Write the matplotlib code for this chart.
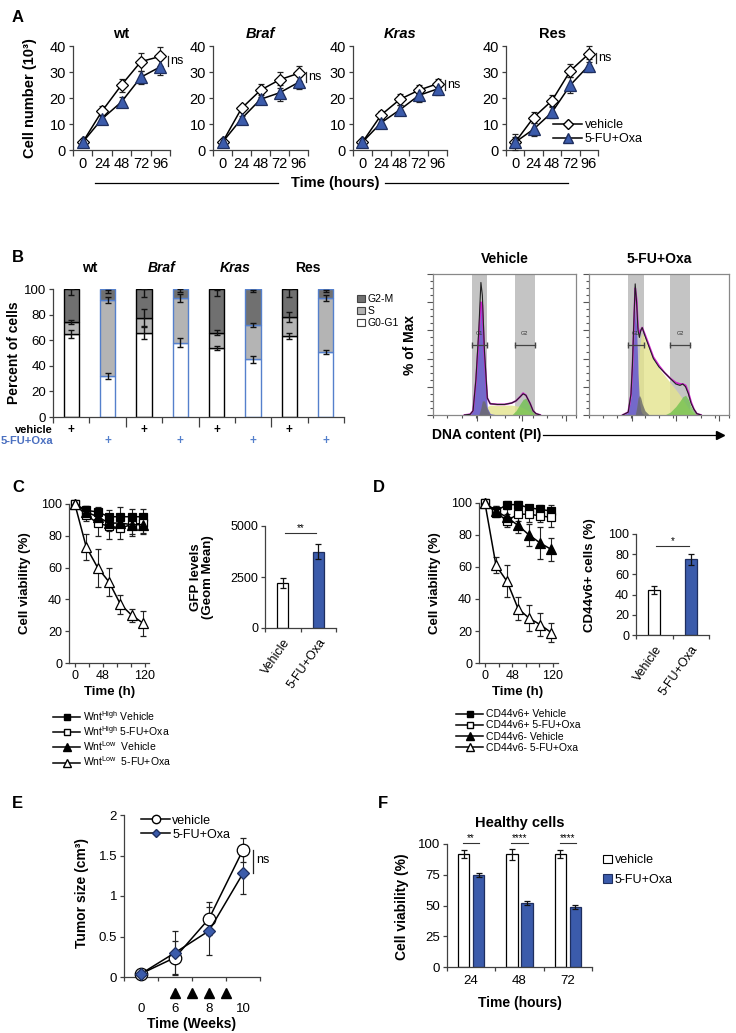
import matplotlib
matplotlib.use('Agg')
import matplotlib.pyplot as plt
import numpy as np
from matplotlib.lines import Line2D
from matplotlib.patches import Patch

plt.rcParams['font.family'] = ['Liberation Sans', 'DejaVu Sans']
plt.rcParams['mathtext.fontset'] = 'custom'
plt.rcParams['mathtext.rm'] = 'Liberation Sans'
plt.rcParams['mathtext.bf'] = 'Liberation Sans:bold'

W, H = 736, 1033
BLUE = '#3b5bab'
DBLUE = '#1e2e5e'
LBLUE = '#5580cc'
AX = '#404040'

# ---------------- data ----------------
# A: cell number (10^3)
a_hours = ['0', '24', '48', '72', '96']
a_lines = ['wt', 'Braf', 'Kras', 'Res']
a_veh = [[3, 15, 25, 34, 36], [3, 16, 23, 27, 29.5], [3, 13.5, 19.5, 23, 25.5], [3, 12.5, 19, 30.5, 37]]
a_veh_err = [[1, 2, 2.5, 3.5, 3.5], [1, 1, 2.5, 3, 3], [1, 1.5, 2, 2, 2], [3, 2, 2, 2.5, 3]]
a_fu = [[3, 12, 18.5, 28, 32], [3, 12, 19.5, 22, 26], [3, 10.5, 15.5, 21, 23.5], [3, 8, 14.5, 25, 32.5]]
a_fu_err = [[1, 1.5, 2, 2.5, 3], [1, 1, 1.5, 3, 2.5], [1, 1.5, 2, 2.5, 2.5], [2, 2.5, 2, 3, 2.5]]

# B: cell cycle (stacked %)
b_groups = ['wt', 'Braf', 'Kras', 'Res']
b_g1 = [65, 32, 66, 58, 54, 45, 63.5, 50.5]
b_g1_err = [3, 2.5, 5, 3.5, 1.5, 3, 2.5, 1.5]
b_s_top = [74, 91.5, 77, 93, 66, 72, 78, 93]
b_s_err = [1.5, 2.5, 7, 3, 2, 1.5, 4, 2]
b_g2_mid = [97.5, 98, 97, 99, 97, 98.5, 97, 98.5]
b_g2_err = [2.5, 1.5, 3, 1, 2.5, 1, 3, 1]

# B right: DNA histograms (fraction of max)
veh_x = [0.22, 0.26, 0.28, 0.30, 0.32, 0.335, 0.345, 0.36, 0.38, 0.40, 0.45, 0.50, 0.55, 0.58, 0.61, 0.63, 0.65, 0.68, 0.70, 0.72, 0.75]
veh_total = [0, 0.005, 0.03, 0.25, 0.60, 0.94, 0.85, 0.45, 0.12, 0.08, 0.075, 0.075, 0.085, 0.10, 0.13, 0.15, 0.14, 0.08, 0.03, 0.01, 0]
veh_fit = [0, 0.005, 0.03, 0.24, 0.55, 0.80, 0.78, 0.42, 0.12, 0.08, 0.075, 0.075, 0.085, 0.10, 0.13, 0.155, 0.14, 0.08, 0.03, 0.01, 0]
veh_g1 = [0, 0.005, 0.03, 0.24, 0.55, 0.80, 0.75, 0.35, 0.05, 0.01, 0, 0, 0, 0, 0, 0, 0, 0, 0, 0, 0]
veh_s = [0, 0, 0, 0, 0, 0, 0.01, 0.03, 0.06, 0.07, 0.07, 0.07, 0.07, 0.065, 0.06, 0.05, 0.04, 0.02, 0.01, 0, 0]
veh_g2 = [0, 0, 0, 0, 0, 0, 0, 0, 0, 0, 0, 0, 0, 0.03, 0.08, 0.11, 0.12, 0.07, 0.03, 0.01, 0]
veh_deb = [0, 0, 0, 0, 0, 0.05, 0.10, 0.10, 0.04, 0, 0, 0, 0, 0, 0, 0, 0, 0, 0, 0, 0]

fu_x = [0.24, 0.28, 0.30, 0.31, 0.32, 0.33, 0.34, 0.35, 0.36, 0.37, 0.38, 0.40, 0.43, 0.46, 0.50, 0.54, 0.58, 0.62, 0.65, 0.67, 0.69, 0.71, 0.73, 0.75, 0.77, 0.80]
fu_total = [0, 0.02, 0.15, 0.35, 0.65, 0.93, 0.80, 0.60, 0.55, 0.60, 0.62, 0.56, 0.48, 0.40, 0.34, 0.30, 0.26, 0.22, 0.21, 0.22, 0.20, 0.15, 0.08, 0.04, 0.01, 0]
fu_fit = [0, 0.02, 0.14, 0.33, 0.62, 0.90, 0.82, 0.62, 0.58, 0.60, 0.62, 0.57, 0.49, 0.41, 0.35, 0.30, 0.26, 0.23, 0.22, 0.22, 0.21, 0.16, 0.09, 0.04, 0.01, 0]
fu_g1 = [0, 0.02, 0.13, 0.30, 0.55, 0.76, 0.62, 0.30, 0.10, 0.03, 0.01, 0, 0, 0, 0, 0, 0, 0, 0, 0, 0, 0, 0, 0, 0, 0]
fu_s = [0, 0, 0, 0, 0, 0.02, 0.10, 0.30, 0.45, 0.55, 0.58, 0.54, 0.46, 0.39, 0.33, 0.28, 0.23, 0.18, 0.14, 0.11, 0.08, 0.05, 0.03, 0.01, 0, 0]
fu_g2 = [0, 0, 0, 0, 0, 0, 0, 0, 0, 0, 0, 0, 0, 0, 0, 0, 0.02, 0.06, 0.10, 0.13, 0.14, 0.11, 0.06, 0.03, 0.01, 0]
fu_deb = [0, 0, 0, 0, 0, 0, 0.05, 0.12, 0.14, 0.12, 0.08, 0.03, 0, 0, 0, 0, 0, 0, 0, 0, 0, 0, 0, 0, 0, 0]

# C / D: viability over time
cd_time = [0, 19.5, 39, 58.5, 78, 97.5, 117]
c_hi_veh = [100, 96, 95, 92, 92, 92, 92]
c_hi_veh_err = [0, 3, 3, 4, 6, 5, 5]
c_hi_fu = [100, 93, 88, 86, 85, 87, 88]
c_hi_fu_err = [0, 4, 8, 8, 7, 6, 6]
c_lo_veh = [100, 95, 92, 88, 88, 87, 87]
c_lo_veh_err = [0, 4, 5, 5, 5, 7, 6]
c_lo_fu = [100, 73, 60, 51, 37, 30, 25]
c_lo_fu_err = [0, 8, 12, 9, 6, 4, 8]
c_labels = ['Wnt$^{\\mathrm{High}}$ Vehicle', 'Wnt$^{\\mathrm{High}}$ 5-FU+Oxa',
            'Wnt$^{\\mathrm{Low}}$  Vehicle', 'Wnt$^{\\mathrm{Low}}$  5-FU+Oxa']
gfp_groups = ['Vehicle', '5-FU+Oxa']
gfp_vals = [2200, 3750]
gfp_err = [250, 370]

d_pos_veh = [100, 95, 99, 99, 97, 96, 95]
d_pos_veh_err = [0, 3, 2, 2, 2, 3, 4]
d_pos_fu = [100, 94, 89, 93, 93, 92, 91]
d_pos_fu_err = [0, 3, 4, 4, 5, 4, 6]
d_neg_veh = [100, 95, 91, 86, 80, 75, 71]
d_neg_veh_err = [0, 3, 5, 5, 7, 10, 7]
d_neg_fu = [100, 61, 51, 34, 28, 24, 19]
d_neg_fu_err = [0, 5, 10, 7, 8, 7, 6]
d_labels = ['CD44v6+ Vehicle', 'CD44v6+ 5-FU+Oxa', 'CD44v6- Vehicle', 'CD44v6- 5-FU+Oxa']
cd44_vals = [45, 75]
cd44_err = [4, 5.5]

# E: tumor size
e_weeks = ['0', '6', '8', '10']
e_veh = [0.04, 0.24, 0.72, 1.57]
e_veh_err = [0.02, 0.20, 0.20, 0.15]
e_fu = [0.04, 0.30, 0.57, 1.28]
e_fu_err = [0.02, 0.27, 0.30, 0.26]
e_doses = [1, 1.5, 2, 2.5]

# F: healthy cells
f_hours = ['24', '48', '72']
f_veh = [92, 91.5, 92]
f_veh_err = [3.5, 4.5, 3]
f_fu = [75, 52, 49]
f_fu_err = [1.5, 1.5, 1.5]
f_sig = ['**', '****', '****']

# ---------------- helpers ----------------
fig = plt.figure(figsize=(W / 100, H / 100), dpi=100)


def px_axes(x0, y0, x1, y1):
    return fig.add_axes([x0 / W, 1 - y1 / H, (x1 - x0) / W, (y1 - y0) / H])


def ftext(x, y, s, **kw):
    return fig.text(x / W, 1 - y / H, s, **kw)


def style(ax, size=9):
    for side in ['top', 'right']:
        ax.spines[side].set_visible(False)
    for side in ['left', 'bottom']:
        ax.spines[side].set_color(AX)
        ax.spines[side].set_linewidth(0.9)
    ax.tick_params(colors=AX, labelcolor='black', direction='out', length=3,
                   width=0.9, labelsize=size, pad=2)


def eb(ax, x, y, err, marker, face, ms, label=None, edge='black'):
    ax.errorbar(x, y, yerr=err, color='black', lw=1.1, marker=marker, ms=ms,
                mfc=face, mec=edge, mew=0.9, ecolor='#222', elinewidth=0.8,
                capsize=2.2, capthick=0.8, zorder=3, clip_on=False, label=label)


# panel letters
for x, y, s in [(12, 18, 'A'), (12, 258, 'B'), (12, 487, 'C'), (373, 487, 'D'),
                (12, 803, 'E'), (378, 803, 'F')]:
    ftext(x, y, s, fontsize=12, fontweight='bold', va='center', ha='left')

# ---------------- A ----------------
a_boxes = [(73, 46, 170, 150), (213, 46, 308, 150), (353, 46, 447, 150), (506, 46, 598, 150)]
a_ns = [(32.5, 36), (26, 30), (23, 27), (33.5, 37.5)]
a_styles = ['normal', 'italic', 'italic', 'normal']
ax_x = np.arange(len(a_hours))
for i, name in enumerate(a_lines):
    ax = px_axes(*a_boxes[i])
    style(ax, 10.5)
    eb(ax, ax_x, a_veh[i], a_veh_err[i], 'D', 'white', 6.5)
    eb(ax, ax_x, a_fu[i], a_fu_err[i], '^', BLUE, 8, edge=DBLUE)
    ax.set_xlim(-0.5, 4.5)
    ax.set_ylim(0, 40)
    ax.set_yticks([0, 10, 20, 30, 40])
    ax.set_xticks(ax_x)
    ax.set_xticklabels(a_hours)
    ax.set_xticks(np.arange(-0.5, 5, 1), minor=True)
    ax.tick_params(axis='x', which='major', length=0, pad=5)
    ax.tick_params(axis='x', which='minor', length=4, color=AX, width=0.9)
    ax.set_title(name, fontsize=10.5, fontweight='bold', fontstyle=a_styles[i], pad=6)
    lo, hi = a_ns[i]
    ax.plot([4.4, 4.4], [lo, hi], color='#222', lw=0.9, clip_on=False)
    ax.text(4.52, (lo + hi) / 2, 'ns', fontsize=9, va='center', ha='left')
ftext(30, 98, 'Cell number (10³)', rotation=90, fontsize=10.5, fontweight='bold',
      ha='center', va='center')
ftext(335, 183, 'Time (hours)', fontsize=10.5, fontweight='bold', ha='center', va='center')
fig.add_artist(Line2D([95 / W, 278 / W], [1 - 183 / H] * 2, color='black', lw=0.9))
fig.add_artist(Line2D([385 / W, 568 / W], [1 - 183 / H] * 2, color='black', lw=0.9))
a_handles = [Line2D([], [], color='black', lw=1.1, marker='D', ms=5, mfc='white', mec='black'),
             Line2D([], [], color='black', lw=1.1, marker='^', ms=6.5, mfc=BLUE, mec=DBLUE)]
fig.legend(a_handles, ['vehicle', '5-FU+Oxa'], loc='center left',
           bbox_to_anchor=(547 / W, 1 - 132 / H), frameon=False, fontsize=9,
           handlelength=2.3, handletextpad=0.2, labelspacing=0.15, borderpad=0)

# ---------------- B (stacked bars) ----------------
G2C, SC = '#707070', '#b4b4b4'
ax = px_axes(53, 289, 344, 417)
style(ax, 9.5)
bx = np.arange(len(b_g1))
edges = ['black', LBLUE] * 4
g1 = np.array(b_g1)
stop = np.array(b_s_top)
ax.bar(bx, g1, width=0.42, color='white', edgecolor=edges, lw=1)
ax.bar(bx, stop - g1, bottom=g1, width=0.42, color=SC, edgecolor=edges, lw=1)
ax.bar(bx, 100 - stop, bottom=stop, width=0.42, color=G2C, edgecolor=edges, lw=1)
for yv, ye in [(b_g1, b_g1_err), (b_s_top, b_s_err), (b_g2_mid, b_g2_err)]:
    ax.errorbar(bx, yv, yerr=ye, fmt='none', ecolor='#111', elinewidth=1, capsize=2.5,
                capthick=1, zorder=4)
ax.set_xlim(-0.5, 7.5)
ax.set_ylim(0, 100)
ax.set_yticks([0, 20, 40, 60, 80, 100])
ax.set_xticks([1.5, 3.5, 5.5])
ax.set_xticklabels([])
ax.tick_params(axis='x', which='major', length=7)
ax.set_xticks([-0.5, 0.5, 2.5, 4.5, 6.5, 7.5], minor=True)
ax.tick_params(axis='x', which='minor', length=4, color=AX, width=0.9)
for k, g in enumerate(b_groups):
    ax.text(2 * k + 0.5, 1.165, g, transform=ax.get_xaxis_transform(), ha='center',
            va='center', fontsize=10, fontweight='bold',
            fontstyle='italic' if g in ('Braf', 'Kras') else 'normal')
trans = ax.get_xaxis_transform()
for k in bx:
    if k % 2 == 0:
        ax.text(k, -0.10, '+', transform=trans, ha='center', va='center', fontsize=8.5,
                fontweight='bold')
    else:
        ax.text(k, -0.19, '+', transform=trans, ha='center', va='center', fontsize=8.5,
                fontweight='bold', color=LBLUE)
ftext(53, 430, 'vehicle', ha='right', va='center', fontsize=8, fontweight='bold')
ftext(53, 441, '5-FU+Oxa', ha='right', va='center', fontsize=8, fontweight='bold',
      color='#4a6fc0')
ftext(14, 353, 'Percent of cells', rotation=90, fontsize=10, fontweight='bold',
      ha='center', va='center')
b_handles = [Patch(facecolor=G2C, edgecolor='#444', lw=0.8),
             Patch(facecolor=SC, edgecolor='#444', lw=0.8),
             Patch(facecolor='white', edgecolor='#444', lw=0.8)]
fig.legend(b_handles, ['G2-M', 'S', 'G0-G1'], loc='upper left',
           bbox_to_anchor=(352 / W, 1 - 289 / H), frameon=False, fontsize=7.5,
           handlelength=0.7, handleheight=0.7, handletextpad=0.25, labelspacing=0.2,
           borderpad=0)

# ---------------- B (DNA histograms) ----------------
hist_sets = [
    ('Vehicle', (433, 274, 576, 415), veh_x, veh_total, veh_fit, veh_g1, veh_s, veh_g2, veh_deb,
     (0.27, 0.38), (0.57, 0.71)),
    ('5-FU+Oxa', (589, 274, 729, 415), fu_x, fu_total, fu_fit, fu_g1, fu_s, fu_g2, fu_deb,
     (0.28, 0.39), (0.58, 0.72)),
]
for title, box, hx, tot, fit, hg1, hs, hg2, hdeb, band1, band2 in hist_sets:
    ax = px_axes(*box)
    for sp in ax.spines.values():
        sp.set_color('#888888')
        sp.set_linewidth(0.9)
    ax.set_xlim(0, 1)
    ax.set_ylim(0, 1.0)
    ax.axvspan(*band1, color='#c4c4c4', lw=0, zorder=0)
    ax.axvspan(*band2, color='#c4c4c4', lw=0, zorder=0)
    ax.fill_between(hx, hs, color='#e4e48e', alpha=0.8, lw=0, zorder=1)
    ax.fill_between(hx, hg2, color='#6cc04a', alpha=0.75, lw=0, zorder=2)
    ax.fill_between(hx, hg1, color='#6659cc', alpha=0.85, lw=0, zorder=2)
    ax.fill_between(hx, hdeb, color='#6a6a6a', alpha=0.8, lw=0, zorder=3)
    ax.plot(hx, fit, color='#d020d0', lw=1.3, zorder=4)
    ax.plot(hx, tot, color='#222222', lw=0.8, zorder=5)
    for (b0, b1), lab in [(band1, 'G1'), (band2, 'G2')]:
        ax.plot([b0, b1], [0.5, 0.5], color='#444', lw=0.9, zorder=6)
        ax.plot([b0, b1], [0.5, 0.5], ls='none', marker='|', ms=5, color='#444', zorder=6)
        ax.text((b0 + b1) / 2, 0.58, lab, fontsize=4, ha='center', va='center', color='#333',
                zorder=6)
    ax.set_yticks(np.arange(0, 1.01, 0.2))
    ax.set_yticks(np.arange(0, 1.01, 0.05), minor=True)
    ax.set_xticks([0.31, 0.62, 0.93])
    ax.set_xticks(np.arange(0, 1.01, 0.1), minor=True)
    ax.tick_params(which='both', labelleft=False, labelbottom=False, color='#555', width=0.8)
    ax.tick_params(which='major', length=4)
    ax.tick_params(which='minor', length=2)
    ax.set_title(title, fontsize=10, fontweight='bold', pad=8)
ftext(410, 345, '% of Max', rotation=90, fontsize=10, fontweight='bold', ha='center', va='center')
ftext(432, 435, 'DNA content (PI)', fontsize=10, fontweight='bold', ha='left', va='center')
fig.add_artist(Line2D([543 / W, 716 / W], [1 - 435 / H] * 2, color='black', lw=0.9))
fig.add_artist(Line2D([720 / W], [1 - 435 / H], marker='>', ms=6, color='black'))


# ---------------- C / D line charts ----------------
def viability(box, series, labels, leg_x, xlim):
    ax = px_axes(*box)
    style(ax, 9)
    marks = [('s', 'black'), ('s', 'white'), ('^', 'black'), ('^', 'white')]
    for (y, err), (m, fc) in zip(series, marks):
        eb(ax, cd_time, y, err, m, fc, 6 if m == 's' else 7)
    ax.set_xlim(*xlim)
    ax.set_ylim(0, 100)
    ax.set_yticks([0, 20, 40, 60, 80, 100])
    ax.set_xticks([0, 48, 120])
    ax.set_xticks([24, 72, 96], minor=True)
    ax.tick_params(axis='x', which='minor', length=3, color=AX, width=0.9)
    handles = [Line2D([], [], color='black', lw=1.1, marker=m, ms=5 if m == 's' else 6,
                      mfc=fc, mec='black') for m, fc in marks]
    fig.legend(handles, labels, loc='upper left', bbox_to_anchor=(leg_x / W, 1 - 704 / H),
               frameon=False, fontsize=7.5, handlelength=2.6, handletextpad=0.3,
               labelspacing=0.12, borderpad=0)
    return ax


viability((69, 504, 149, 663),
          [(c_hi_veh, c_hi_veh_err), (c_hi_fu, c_hi_fu_err), (c_lo_veh, c_lo_veh_err),
           (c_lo_fu, c_lo_fu_err)], c_labels, 48, (-10, 127))
ftext(25, 583, 'Cell viability (%)', rotation=90, fontsize=9.5, fontweight='bold',
      ha='center', va='center')
ftext(110, 692, 'Time (h)', fontsize=9.5, fontweight='bold', ha='center', va='center')

viability((479, 503, 558, 663),
          [(d_pos_veh, d_pos_veh_err), (d_pos_fu, d_pos_fu_err), (d_neg_veh, d_neg_veh_err),
           (d_neg_fu, d_neg_fu_err)], d_labels, 451, (-10.5, 129))
ftext(435, 583, 'Cell viability (%)', rotation=90, fontsize=9.5, fontweight='bold',
      ha='center', va='center')
ftext(518, 692, 'Time (h)', fontsize=9.5, fontweight='bold', ha='center', va='center')


# ---------------- C / D small bar charts ----------------
def two_bars(box, vals, err, ylim, yticks, sig, sig_y):
    ax = px_axes(*box)
    style(ax, 9)
    bxx = np.arange(2)
    ax.bar(bxx, vals, width=0.32, color=['white', BLUE], edgecolor=['black', DBLUE], lw=0.9)
    ax.errorbar(bxx, vals, yerr=err, fmt='none', ecolor='#111', elinewidth=0.9, capsize=2.5,
                capthick=0.9)
    ax.set_xlim(-0.5, 1.5)
    ax.set_ylim(*ylim)
    ax.set_yticks(yticks)
    ax.set_xticks(bxx)
    ax.set_xticklabels(gfp_groups, rotation=55, ha='right', rotation_mode='anchor', fontsize=9)
    ax.tick_params(axis='x', which='major', length=0, pad=6)
    ax.set_xticks([-0.5, 0.5, 1.5], minor=True)
    ax.tick_params(axis='x', which='minor', length=3, color=AX, width=0.9)
    ax.plot([0.05, 0.95], [sig_y, sig_y], color='#333', lw=0.8)
    ax.text(0.5, sig_y, sig, ha='center', va='bottom', fontsize=7)
    return ax


two_bars((265, 526, 336, 628), gfp_vals, gfp_err, (0, 5000), [0, 2500, 5000], '**', 4650)
ftext(202, 577, 'GFP levels\n(Geom Mean)', rotation=90, fontsize=9.5, fontweight='bold',
      ha='center', va='center', linespacing=1.0)
two_bars((636, 534, 709, 635), cd44_vals, cd44_err, (0, 100), [0, 20, 40, 60, 80, 100], '*', 88)
ftext(590, 575, 'CD44v6+ cells (%)', rotation=90, fontsize=9.5, fontweight='bold',
      ha='center', va='center')

# ---------------- E ----------------
ax = px_axes(124, 815, 260, 977)
style(ax, 9.5)
ex = np.arange(len(e_weeks))
eb(ax, ex, e_veh, e_veh_err, 'o', 'white', 9)
eb(ax, ex, e_fu, e_fu_err, 'D', BLUE, 6.5, edge=DBLUE)
ax.set_xlim(-0.5, 3.5)
ax.set_ylim(0, 2)
ax.set_yticks([0, 0.5, 1, 1.5, 2])
ax.set_yticklabels(['0', '0.5', '1', '1.5', '2'])
ax.set_xticks(ex)
ax.set_xticklabels(e_weeks)
ax.tick_params(axis='x', which='major', length=0, pad=19)
ax.set_xticks(np.arange(-0.5, 4, 1), minor=True)
ax.tick_params(axis='x', which='minor', length=3, color=AX, width=0.9)
ax.plot(e_doses, [-0.1] * len(e_doses), ls='none', marker='^', ms=7, color='black',
        transform=ax.get_xaxis_transform(), clip_on=False)
ax.plot([3.3, 3.3], [1.28, 1.57], color='#222', lw=0.9, clip_on=False)
ax.text(3.4, 1.44, 'ns', fontsize=9, va='center', ha='left')
e_handles = [Line2D([], [], color='black', lw=1.1, marker='o', ms=6, mfc='white', mec='black'),
             Line2D([], [], color='black', lw=1.1, marker='D', ms=4.5, mfc=BLUE, mec=DBLUE)]
ax.legend(e_handles, ['vehicle', '5-FU+Oxa'], loc='upper left',
          bbox_to_anchor=(0.08, 1.04), frameon=False, fontsize=9, handlelength=2.3,
          handletextpad=0.2, labelspacing=0.15, borderpad=0)
ftext(82, 893, 'Tumor size (cm³)', rotation=90, fontsize=10, fontweight='bold',
      ha='center', va='center')
ftext(192, 1024, 'Time (Weeks)', fontsize=10, fontweight='bold', ha='center', va='center')

# ---------------- F ----------------
ax = px_axes(447, 844, 592, 967)
style(ax, 9.5)
fx = np.arange(len(f_hours))
ax.bar(fx - 0.155, f_veh, width=0.24, color='white', edgecolor='black', lw=0.9)
ax.bar(fx + 0.155, f_fu, width=0.24, color=BLUE, edgecolor=DBLUE, lw=0.9)
ax.errorbar(fx - 0.155, f_veh, yerr=f_veh_err, fmt='none', ecolor='#111', elinewidth=0.9,
            capsize=2.5, capthick=0.9)
ax.errorbar(fx + 0.155, f_fu, yerr=f_fu_err, fmt='none', ecolor='#111', elinewidth=0.9,
            capsize=2.5, capthick=0.9)
ax.set_xlim(-0.5, 2.5)
ax.set_ylim(0, 100)
ax.set_yticks([0, 25, 50, 75, 100])
ax.set_xticks(fx)
ax.set_xticklabels(f_hours)
ax.tick_params(axis='x', which='major', length=0, pad=6)
ax.set_xticks(np.arange(-0.5, 3, 1), minor=True)
ax.tick_params(axis='x', which='minor', length=3, color=AX, width=0.9)
for k, s in enumerate(f_sig):
    ax.plot([k - 0.17, k + 0.17], [101, 101], color='#333', lw=0.8, clip_on=False)
    ax.text(k, 101, s, ha='center', va='bottom', fontsize=7)
ax.set_title('Healthy cells', fontsize=10.5, fontweight='bold', pad=12)
f_handles = [Patch(facecolor='white', edgecolor='black', lw=0.8),
             Patch(facecolor=BLUE, edgecolor=DBLUE, lw=0.8)]
fig.legend(f_handles, ['vehicle', '5-FU+Oxa'], loc='upper left',
           bbox_to_anchor=(597 / W, 1 - 848 / H), frameon=False, fontsize=9,
           handlelength=0.7, handleheight=0.7, handletextpad=0.2, labelspacing=0.6,
           borderpad=0)
ftext(402, 907, 'Cell viability (%)', rotation=90, fontsize=10, fontweight='bold',
      ha='center', va='center')
ftext(520, 1003, 'Time (hours)', fontsize=10, fontweight='bold', ha='center', va='center')

fig.savefig('out.png', dpi=100)
